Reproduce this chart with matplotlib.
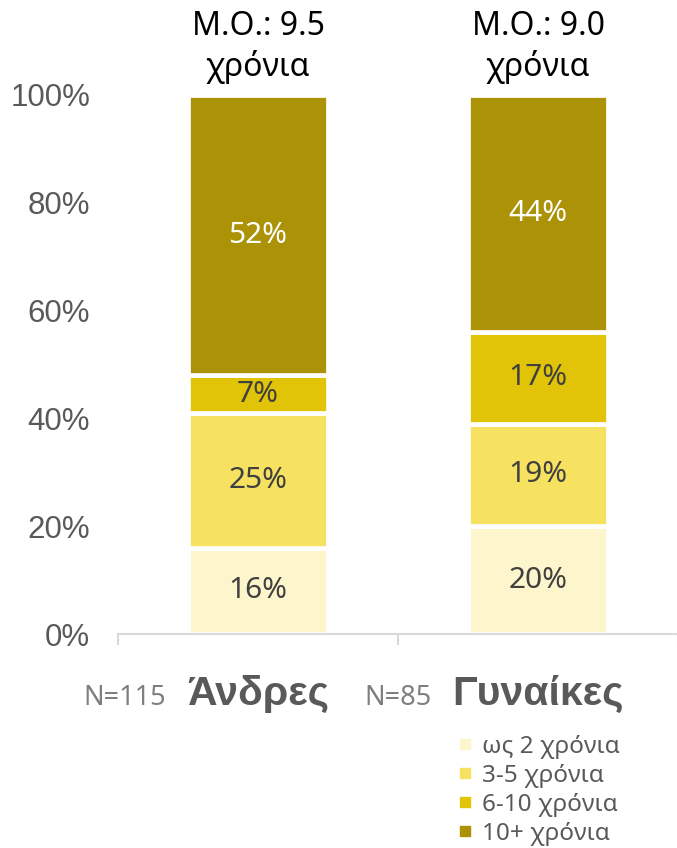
import matplotlib

matplotlib.use("Agg")
import matplotlib.pyplot as plt  # noqa: E402
from matplotlib.lines import Line2D  # noqa: E402
import numpy as np  # noqa: E402

plt.rcParams["font.family"] = ["Noto Sans", "DejaVu Sans"]

categories = ["Άνδρες", "Γυναίκες"]
sample_sizes = ["N=115", "N=85"]
means = ["Μ.Ο.: 9.5\nχρόνια", "Μ.Ο.: 9.0\nχρόνια"]
series = ["ως 2 χρόνια", "3-5 χρόνια", "6-10 χρόνια", "10+ χρόνια"]
values = [
    [16, 20],  # ως 2 χρόνια
    [25, 19],  # 3-5 χρόνια
    [7, 17],   # 6-10 χρόνια
    [52, 44],  # 10+ χρόνια
]
colors = ["#FDF5CB", "#F7E161", "#E1C308", "#AB9207"]
label_colors = ["#404040", "#404040", "#404040", "white"]
yticks = [0, 20, 40, 60, 80, 100]

fig = plt.figure(figsize=(6.77, 8.48), dpi=100)
ax = fig.add_axes([118 / 677, 1 - 634 / 848, 560 / 677, 539 / 848])

x = np.arange(len(categories))
bottom = np.zeros(len(categories))
for vals, col, lc in zip(values, colors, label_colors):
    vals = np.array(vals, dtype=float)
    ax.bar(x, vals, 0.5, bottom=bottom, color=col, edgecolor="white", linewidth=3.4)
    for xi, v, b in zip(x, vals, bottom):
        ax.text(xi, b + v / 2, f"{v:.0f}%", ha="center", va="center",
                fontsize=21.5, color=lc)
    bottom += vals

ax.set_xlim(-0.5, 1.5)
ax.set_ylim(0, 100)
ax.set_yticks(yticks)
ax.set_yticklabels([f"{t}%" for t in yticks], family=["Liberation Sans"],
                   fontsize=22.5, color="#595959")
ax.tick_params(axis="y", length=0, pad=20)
ax.set_xticks([])
ax.set_xticks([-0.5, 0.5, 1.5], minor=True)
ax.tick_params(axis="x", which="minor", length=8, width=1.5, color="#D9D9D9")
for s in ["left", "right", "top"]:
    ax.spines[s].set_visible(False)
ax.spines["bottom"].set_color("#D9D9D9")
ax.spines["bottom"].set_linewidth(1.5)

for xi, m in zip(x, means):
    ax.text(xi, 1.089, m, transform=ax.get_xaxis_transform(), ha="center",
            va="center", fontsize=23, color="black", linespacing=1.25)

for xi, cat, n in zip(x, categories, sample_sizes):
    t = ax.text(xi, -0.132, cat, transform=ax.get_xaxis_transform(),
                ha="center", va="baseline", fontsize=29.5, fontweight="bold",
                family=["Liberation Sans", "DejaVu Sans"], color="#595959")
    ax.annotate(n, xy=(0, -0.132), xycoords=(t, "axes fraction"),
                xytext=(-15, 0), textcoords="offset points", ha="right",
                va="baseline", fontsize=19.5, color="#7F7F7F")

handles = [Line2D([], [], marker="s", linestyle="none", markersize=6.5,
                  markerfacecolor=c, markeredgecolor=c) for c in colors]
fig.legend(handles, series, loc="upper left", bbox_to_anchor=(460 / 677, 1 - 735 / 848),
           frameon=False, fontsize=17.5, labelcolor="#595959", handlelength=0.4,
           handletextpad=0.5, labelspacing=0.2, borderpad=0, borderaxespad=0)

fig.savefig("out.png", dpi=100)
plt.close(fig)
